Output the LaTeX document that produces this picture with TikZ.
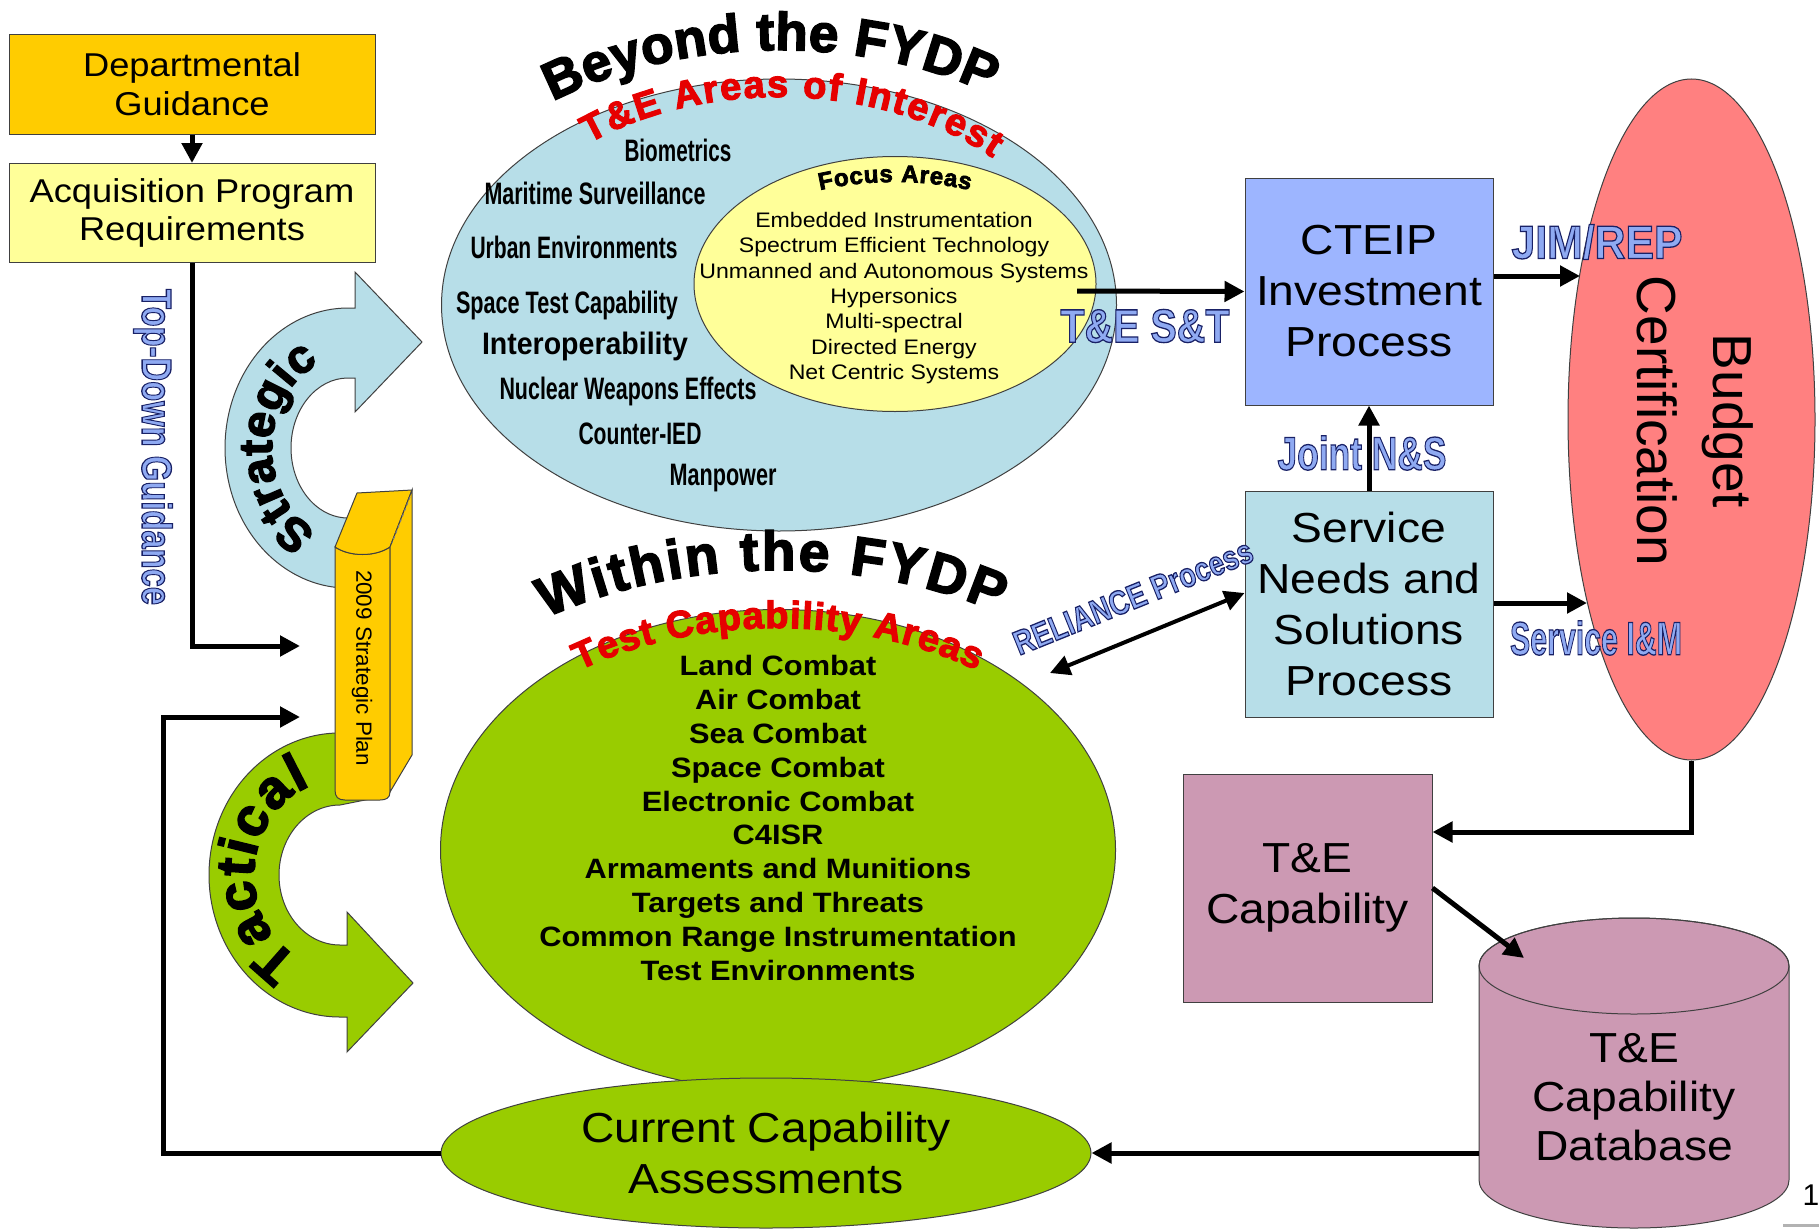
\documentclass[tikz,border=0pt]{standalone}
\usepackage{fontspec}
\usepackage{graphicx}
\setmainfont[FakeStretch=1.1]{Liberation Sans}
\newfontfamily\plainfont{Liberation Sans}
\newfontfamily\heavyfont[BoldFeatures={FakeBold=3}]{Liberation Sans}
\usetikzlibrary{arrows.meta,shapes.geometric,decorations.text}
\definecolor{gold}{HTML}{FFCC00}
\definecolor{paleyellow}{HTML}{FFFF99}
\definecolor{lightblue}{HTML}{B7DEE8}
\definecolor{leaf}{HTML}{99CC00}
\definecolor{peri}{HTML}{9DB5FF}
\definecolor{salmon}{HTML}{FF8080}
\definecolor{mauve}{HTML}{CC99B3}
\definecolor{edge}{HTML}{404040}
\definecolor{labelblue}{HTML}{8FAAF2}
\definecolor{headred}{HTML}{E60000}
\newcommand\wfit[2]{\resizebox{#1pt}{\height}{#2}}
\newcommand\wordart[1]{\special{pdf:literal direct 2 Tr 1.3 w 0.10 0.13 0.40 RG}#1\special{pdf:literal direct 0 Tr}}
\begin{document}
\begin{tikzpicture}[x=1pt,y=-1pt,
  outl/.style={draw=edge, line width=1pt},
  boxnode/.style={outl, rectangle, inner sep=0pt, align=center, font=\fontsize{42}{51}\selectfont},
  ellnode/.style={outl, ellipse, inner sep=0pt},
  conn/.style={line width=5pt, -{Triangle[length=20pt,width=20pt]}},
  bluelabel/.style={text=labelblue, inner sep=0pt, font=\bfseries\fontsize{47}{47}\selectfont},
  areaitem/.style={inner sep=0pt, anchor=base, font=\plainfont\bfseries\fontsize{31}{31}\selectfont},
  archead/.style={decorate, decoration={text along path, text align=fit to path}},
]
\useasboundingbox (0,0) rectangle (1819,1228);
\fill[white] (0,0) rectangle (1819,1228);

% big ellipses
\node[ellnode, fill=lightblue, minimum width=675pt, minimum height=452pt] (beyond) at (779,305) {};
\node[ellnode, fill=paleyellow, minimum width=402pt, minimum height=255pt] (focus) at (895,284) {};
\node[ellnode, fill=leaf, minimum width=675pt, minimum height=481pt] (within) at (778,850) {};
\node[ellnode, fill=leaf, minimum width=650pt, minimum height=150pt, align=center, font=\fontsize{42}{51}\selectfont] (cca) at (766,1153) {Current Capability\\Assessments};

% strategic arrow
\draw[outl, fill=lightblue] (348,448) ++(80:123 and 140) arc[start angle=80, end angle=270, x radius=123, y radius=140] -- (355,308) -- (355,272) -- (422,342) -- (355,412) -- (355,378) -- (348,378) arc[start angle=270, end angle=80, x radius=57, y radius=70] -- cycle;
% tactical arrow
\draw[outl, fill=leaf] (340,875) ++(285:131 and 142) arc[start angle=285, end angle=90, x radius=131, y radius=142] -- (347,1017) -- (347,1052) -- (413,983) -- (347,912) -- (347,945) -- (340,945) arc[start angle=90, end angle=270, x radius=61, y radius=70] -- (380,797) -- cycle;

\path[archead, decoration={text={|\heavyfont\bfseries\fontsize{47}{47}\selectfont|Strategic}}] (348,448) ++(114:76 and 91) arc[start angle=114, end angle=248, x radius=76, y radius=91];
\path[archead, decoration={text={|\heavyfont\bfseries\fontsize{54}{54}\selectfont|Tactical}}] (340,875) ++(118:86 and 95) arc[start angle=118, end angle=250, x radius=86, y radius=95];

% book
\draw[outl, fill=gold] (335,547) .. controls (350,557) and (375,557) .. (390,547) -- (390,792) .. controls (390,798) and (386,800) .. (380,800) -- (345,800) .. controls (338,800) and (335,797) .. (335,790) -- cycle;
\draw[outl, fill=gold] (335,547) -- (357,493) -- (412,490) -- (390,547) .. controls (375,557) and (350,557) .. (335,547) -- cycle;
\draw[outl, fill=gold] (390,547) -- (412,490) -- (412,755) -- (390,792) -- cycle;
\draw[gray, dashed, line width=1pt] (410,497) -- (392,543);
\node[rotate=-90, inner sep=0pt] (plan) at (362,668) {\wfit{196}{\plainfont\fontsize{22}{22}\selectfont 2009 Strategic Plan}};

% boxes
\node[boxnode, fill=gold, minimum width=366pt, minimum height=99pt, font=\fontsize{33}{39}\selectfont] (dept) at (192,84.5) {Departmental\\Guidance};
\node[boxnode, fill=paleyellow, minimum width=366pt, minimum height=99pt, font=\fontsize{33}{38}\selectfont] (acq) at (192,213) {Acquisition Program\\Requirements};
\node[boxnode, fill=peri, minimum width=248pt, minimum height=227pt] (cteip) at (1369,291.5) {CTEIP\\Investment\\Process};
\node[boxnode, fill=lightblue, minimum width=248pt, minimum height=226pt] (service) at (1369,604) {Service\\Needs and\\Solutions\\Process};
\node[ellnode, fill=salmon, minimum width=247pt, minimum height=681pt] (budget) at (1691.5,419.5) {};
\node[rotate=-90, inner sep=0pt, align=center, font=\plainfont\fontsize{55}{76}\selectfont] (budgettext) at (1695,421) {Budget\\Certification};
\node[boxnode, fill=mauve, minimum width=249pt, minimum height=228pt] (tecap) at (1307.5,888) {T\&E\\Capability};

% database cylinder
\draw[outl, fill=mauve] (1479,966) -- (1479,1180) arc[start angle=180, end angle=0, x radius=155, y radius=48] -- (1789,966) arc[start angle=0, end angle=-180, x radius=155, y radius=48] -- cycle;
\draw[outl] (1634,966) ellipse[x radius=155, y radius=48];
\node[inner sep=0pt, align=center, font=\fontsize{42}{49}\selectfont, minimum width=310pt] (db) at (1634,1097) {T\&E\\Capability\\Database};

% headings on arcs
\path[archead, decoration={text={|\heavyfont\bfseries\fontsize{53}{53}\selectfont|Beyond the FYDP}}] (779,305) ++(233:376 and 255) arc[start angle=233, end angle=304, x radius=376, y radius=255];
\path[archead, decoration={text color=headred, text={|\heavyfont\bfseries\fontsize{38}{38}\selectfont|T{\&}E Areas of Interest}}] (779,305) ++(231:302 and 208) arc[start angle=231, end angle=315, x radius=302, y radius=208];
\path[archead, decoration={text={|\heavyfont\bfseries\fontsize{24}{24}\selectfont|Focus Areas}}] (895,284) ++(247:192 and 102) arc[start angle=247, end angle=293, x radius=192, y radius=102];
\path[archead, decoration={text={|\heavyfont\bfseries\fontsize{55}{55}\selectfont|Within the FYDP}}] (778,850) ++(236:415 and 280) arc[start angle=236, end angle=302, x radius=415, y radius=280];
\path[archead, decoration={text color=headred, text={|\heavyfont\bfseries\fontsize{38}{38}\selectfont|Test Capability Areas}}] (778,850) ++(234:338 and 222) arc[start angle=234, end angle=306, x radius=338, y radius=222];

% areas of interest
\node[areaitem] (bio) at (678,161) {\wfit{107}{Biometrics}};
\node[areaitem] (mar) at (595,204) {\wfit{221}{Maritime Surveillance}};
\node[areaitem] (urb) at (574,258) {\wfit{207}{Urban Environments}};
\node[areaitem] (spc) at (567,313) {\wfit{222}{Space Test Capability}};
\node[areaitem] (iop) at (585,354) {\wfit{206}{Interoperability}};
\node[areaitem] (nuc) at (628,399) {\wfit{257}{Nuclear Weapons Effects}};
\node[areaitem] (ied) at (640,444) {\wfit{123}{Counter-IED}};
\node[areaitem] (man) at (723,485) {\wfit{107}{Manpower}};

\node[inner sep=0pt, align=center, font=\fontsize{21}{25.3}\selectfont] (focuslist) at (894,298) {Embedded Instrumentation\\Spectrum Efficient Technology\\Unmanned and Autonomous Systems\\Hypersonics\\Multi-spectral\\Directed Energy\\Net Centric Systems};
\node[inner sep=0pt, align=center, font=\bfseries\fontsize{28}{33.85}\selectfont] (tcalist) at (778,818) {Land Combat\\Air Combat\\Sea Combat\\Space Combat\\Electronic Combat\\C4ISR\\Armaments and Munitions\\Targets and Threats\\Common Range Instrumentation\\Test Environments};

% blue labels
\node[bluelabel, rotate=-90, font=\bfseries\fontsize{42}{42}\selectfont] (tdg) at (153,447) {\wfit{316}{\wordart{Top-Down Guidance}}};
\node[bluelabel] (tes) at (1145,326) {\wfit{169}{\wordart{T\&E S\&T}}};
\node[bluelabel] (jim) at (1597,242) {\wfit{171}{\wordart{JIM/REP}}};
\node[bluelabel] (jns) at (1362,453) {\wfit{169}{\wordart{Joint N\&S}}};
\node[bluelabel] (sim) at (1596,638) {\wfit{172}{\wordart{Service I\&M}}};
\node[bluelabel, rotate=22, font=\bfseries\fontsize{34}{34}\selectfont] (rel) at (1133,597) {\wfit{255}{\wordart{RELIANCE Process}}};

% connectors
\coordinate (planin1) at (300,646);
\coordinate (planin2) at (300,717);
\coordinate (fbx) at (163,0);
\coordinate (stout) at (1077,291);
\coordinate (jimend) at (1580,276);
\coordinate (simend) at (1587,603);
\coordinate (relend) at (1050,673);
\coordinate (dbtop) at (1524,958);

\draw[conn] (dept) -- (acq);
\draw[conn] (acq.south) -- (acq.south |- planin1) -- (planin1);
\draw[conn] (cca.west) -- (cca.west -| fbx) |- (planin2);
\draw[conn] (stout) -- (cteip.west);
\draw[conn] (cteip.east |- jimend) -- (jimend);
\draw[conn] (service.east |- simend) -- (simend);
\draw[conn] (service) -- (cteip);
\draw[line width=4pt, {Triangle[length=20pt,width=20pt]}-{Triangle[length=20pt,width=20pt]}] (relend) -- ([yshift=11pt]service.west);
\draw[conn] (budget.south) |- ([yshift=56pt]tecap.east);
\draw[conn] (tecap.east) -- (dbtop);
\draw[conn] (db.west |- cca.east) -- (cca.east);

\node[inner sep=0pt, anchor=base, font=\plainfont\fontsize{30}{30}\selectfont] (pg) at (1811,1205) {1};
\draw[gray!60, line width=3pt] (1783,1225) -- (1819,1225);
\end{tikzpicture}
\end{document}
